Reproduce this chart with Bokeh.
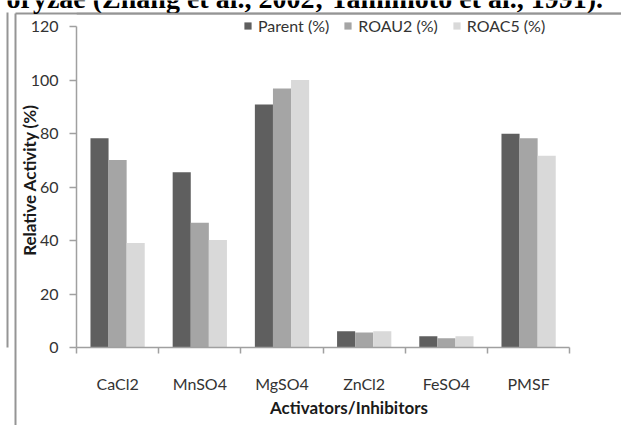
from bokeh.plotting import figure
from bokeh.models import (ColumnDataSource, FixedTicker, Legend, LegendItem,
                          LinearAxis, Range1d, Span)
from bokeh.core.properties import value
from bokeh.embed import file_html
from bokeh.resources import INLINE

# Relative activity of the enzymes in the presence of activators/inhibitors
categories = ["CaCl2", "MnSO4", "MgSO4", "ZnCl2", "FeSO4", "PMSF"]
parent = [78.2, 65.5, 90.8, 6.1, 4.2, 79.9]
roau2 = [70.1, 46.6, 96.8, 5.6, 3.5, 78.2]
roac5 = [39.1, 40.2, 100.0, 6.1, 4.2, 71.7]
series_names = ["Parent (%)", "ROAU2 (%)", "ROAC5 (%)"]
series_values = [parent, roau2, roac5]
series_colors = ["#5f5f5f", "#a5a5a5", "#d9d9d9"]
y_ticks = [0, 20, 40, 60, 80, 100, 120]
caption = "oryzae (Zhang et al., 2002; Tamimoto et al., 1991)."

FONT = "Lato"
TEXT = "#333333"
AXIS = "#a0a0a0"
FRAME_LINE = "#959595"

W, H = 621, 425

# page layer underneath: white sheet, frame lines of the inserted figure and
# the caption line of the surrounding text, in pixel coordinates
page = figure(width=W, height=H, output_backend="svg", toolbar_location=None,
              x_range=Range1d(0, W), y_range=Range1d(H, 0), title=None,
              x_axis_type=None, y_axis_type=None, min_border=0)
page.outline_line_color = None
page.grid.visible = False
page.background_fill_color = "white"
page.border_fill_color = "white"
page.segment(x0=[15, 15], y0=[13, 13], x1=[15, W], y1=[H, 13],
             line_color=FRAME_LINE, line_width=2)
page.text(x=[603], y=[-2], text=[caption], text_align="right",
          text_baseline="alphabetic", text_font=value("Liberation Serif"),
          text_font_size="28px", text_font_style="bold", text_color="black")
page.styles = {"position": "absolute", "top": "0px", "left": "0px"}

# value axis stops at 120; the headroom above it holds the legend
frame_h = 335
y_top = 120 * frame_h / 321
x_right = 545 / 82.2

p = figure(width=W, height=H, output_backend="svg", toolbar_location=None,
           x_range=Range1d(0, x_right), y_range=Range1d(0, y_top),
           min_border_left=76, min_border_right=0, min_border_top=12,
           min_border_bottom=78)
p.outline_line_color = None
p.xgrid.grid_line_color = None
p.ygrid.grid_line_color = None
p.background_fill_alpha = 0
p.border_fill_alpha = 0

# top edge of the inserted figure, along the top of the plotting area
p.add_layout(Span(location=y_top - y_top / frame_h, dimension="width",
                  line_color=FRAME_LINE, line_width=2))

bar_w = 0.22
offsets = [-bar_w, 0.0, bar_w]
renderers = []
for name, vals, col, off in zip(series_names, series_values, series_colors, offsets):
    src = ColumnDataSource(dict(x=[i + 0.5 + off for i in range(len(categories))],
                                top=vals))
    r = p.vbar(x="x", top="top", width=bar_w, bottom=0, source=src,
               fill_color=col, line_color=None)
    renderers.append((name, r))

# x axis: tick marks on group boundaries, labels centred on each group
p.xaxis.ticker = FixedTicker(ticks=[i + 0.5 for i in range(len(categories))],
                             minor_ticks=list(range(len(categories) + 1)))
p.xaxis.bounds = (0, len(categories))
p.xaxis.major_label_overrides = {i + 0.5: c for i, c in enumerate(categories)}
p.xaxis.major_tick_out = 0
p.xaxis.major_tick_in = 0
p.xaxis.minor_tick_out = 6
p.xaxis.minor_tick_in = 0
p.xaxis.minor_tick_line_color = AXIS
p.xaxis.minor_tick_line_width = 1.5
p.xaxis.major_label_standoff = 20
p.xaxis.axis_label = "Activators/Inhibitors"
p.xaxis.axis_label_standoff = 1

p.yaxis.ticker = FixedTicker(ticks=y_ticks, minor_ticks=[])
p.yaxis.bounds = (0, 120)
p.yaxis.major_tick_out = 7
p.yaxis.major_tick_in = 0
p.yaxis.major_tick_line_color = AXIS
p.yaxis.major_tick_line_width = 1.5
p.yaxis.major_label_standoff = 11
p.yaxis.axis_label = "Relative Activity (%)"
p.yaxis.axis_label_standoff = -12

for ax in (p.xaxis, p.yaxis):
    ax.axis_line_color = AXIS
    ax.axis_line_width = 1.5
    ax.major_label_text_font = FONT
    ax.major_label_text_font_size = "16px"
    ax.major_label_text_color = TEXT
    ax.axis_label_text_font = FONT
    ax.axis_label_text_font_size = "17px"
    ax.axis_label_text_font_style = "bold"
    ax.axis_label_text_color = "#1a1a1a"

# empty spacer axis, then the left edge of the inserted figure as an axis line
spacer = LinearAxis(ticker=FixedTicker(ticks=[60], minor_ticks=[]),
                    major_label_overrides={60: ""}, major_tick_out=8,
                    major_tick_in=0, major_tick_line_color=None,
                    major_label_standoff=0, axis_line_color=None)
p.add_layout(spacer, "left")
edge = LinearAxis(ticker=FixedTicker(ticks=[], minor_ticks=[]),
                  major_tick_out=0, major_tick_in=0, major_label_standoff=0,
                  axis_line_color=FRAME_LINE, axis_line_width=2)
p.add_layout(edge, "left")

legend = Legend(items=[LegendItem(label=n, renderers=[r]) for n, r in renderers],
                orientation="horizontal", location=(167, 312),
                label_text_font=FONT, label_text_font_size="16px",
                label_text_color=TEXT, glyph_width=9, glyph_height=9,
                label_standoff=6, spacing=14, padding=0, margin=0,
                label_height=16, border_line_color=None,
                background_fill_alpha=0)
p.add_layout(legend, "center")

open("out.html", "w").write(file_html([page, p], INLINE))
